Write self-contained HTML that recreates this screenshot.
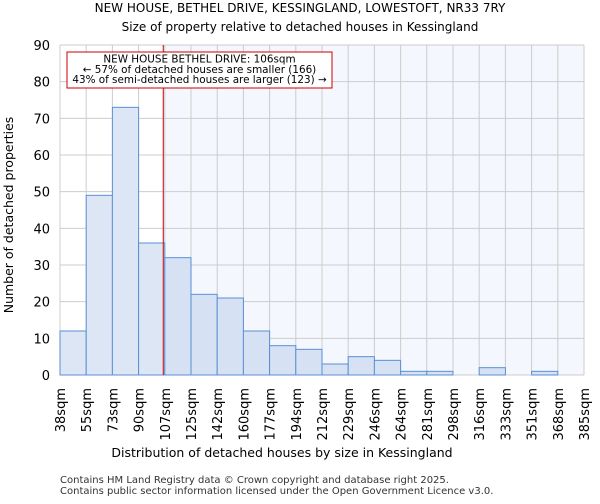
<!DOCTYPE html>
<html><head><meta charset="utf-8"><style>
body{margin:0;background:#fff;font-family:"DejaVu Sans","Liberation Sans",sans-serif;}
svg text{font-family:"DejaVu Sans","Liberation Sans",sans-serif;}
</style></head><body>
<svg id="c" width="600" height="500">
<text x="300" y="12" text-anchor="middle" font-size="12">NEW HOUSE, BETHEL DRIVE, KESSINGLAND, LOWESTOFT, NR33 7RY</text>
<text x="300" y="31" text-anchor="middle" font-size="12">Size of property relative to detached houses in Kessingland</text>
<g id="plot"></g>
<text x="282" y="457" text-anchor="middle" font-size="12.5">Distribution of detached houses by size in Kessingland</text>
<text transform="translate(13,215) rotate(-90)" text-anchor="middle" font-size="12.5">Number of detached properties</text>
<text x="60" y="483" font-size="10" fill="#333">Contains HM Land Registry data © Crown copyright and database right 2025.</text>
<text x="60" y="494" font-size="10" fill="#333">Contains public sector information licensed under the Open Government Licence v3.0.</text>
</svg>
<script>
const categories=["38sqm","55sqm","73sqm","90sqm","107sqm","125sqm","142sqm","160sqm","177sqm","194sqm","212sqm","229sqm","246sqm","264sqm","281sqm","298sqm","316sqm","333sqm","351sqm","368sqm","385sqm"];
const counts=[12,49,73,36,32,22,21,12,8,7,3,5,4,1,1,0,2,0,1,0];
const yTicks=[0,10,20,30,40,50,60,70,80,90];
const propertySize=106;
const binStarts=[38,55,73,90,107,125,142,160,177,194,212,229,246,264,281,298,316,333,351,368,385];
const NS="http://www.w3.org/2000/svg";
const L=60,R=584,T=45,B=375,yMax=90;
const bw=(R-L)/counts.length;
const x=i=>L+i*bw;
const y=v=>B-(v/yMax)*(B-T);
function sizeX(s){for(let i=0;i<binStarts.length-1;i++){if(s>=binStarts[i]&&s<=binStarts[i+1])return x(i)+(s-binStarts[i])/(binStarts[i+1]-binStarts[i])*bw;}return R;}
const g=document.getElementById('plot');
function mk(t,a){const e=document.createElementNS(NS,t);for(const k in a)e.setAttribute(k,a[k]);g.appendChild(e);return e;}
const mx=sizeX(propertySize);
let bg=mk('rect',{x:mx,y:T,width:R-mx,height:B-T,fill:'#f4f7fd'});


for(let i=0;i<=counts.length;i++){let l=mk('line',{x1:x(i),x2:x(i),y1:T,y2:B,stroke:'#cccccc'});

}
yTicks.forEach(v=>{let l=mk('line',{x1:L,x2:R,y1:y(v),y2:y(v),stroke:'#cccccc'});


let t=mk('text',{x:L-10,y:y(v)+5,'text-anchor':'end','font-size':13});t.textContent=v;

});
counts.forEach((c,i)=>{if(c<=0)return;let r=mk('rect',{x:x(i),y:y(c),width:bw,height:B-y(c),fill:x(i)<mx?'#dde6f4':'#d6e1f3',stroke:'#5b8fd6','stroke-width':1});

});
categories.forEach((c,i)=>{let t=mk('text',{transform:`translate(${x(i)+5},388) rotate(-90)`,'text-anchor':'end','font-size':13});t.textContent=c;

});
let ml=mk('line',{x1:mx,x2:mx,y1:T,y2:B,stroke:'#cc0000','stroke-width':1});


let box=mk('rect',{x:67,y:52,width:265,height:36,fill:'#fff',stroke:'#cc0000'});


["NEW HOUSE BETHEL DRIVE: 106sqm","← 57% of detached houses are smaller (166)","43% of semi-detached houses are larger (123) →"].forEach((s,k)=>{let t=mk('text',{x:199.5,y:62.5+k*10.3,'text-anchor':'middle','font-size':10.4});t.textContent=s;

});
</script>
</body></html>
